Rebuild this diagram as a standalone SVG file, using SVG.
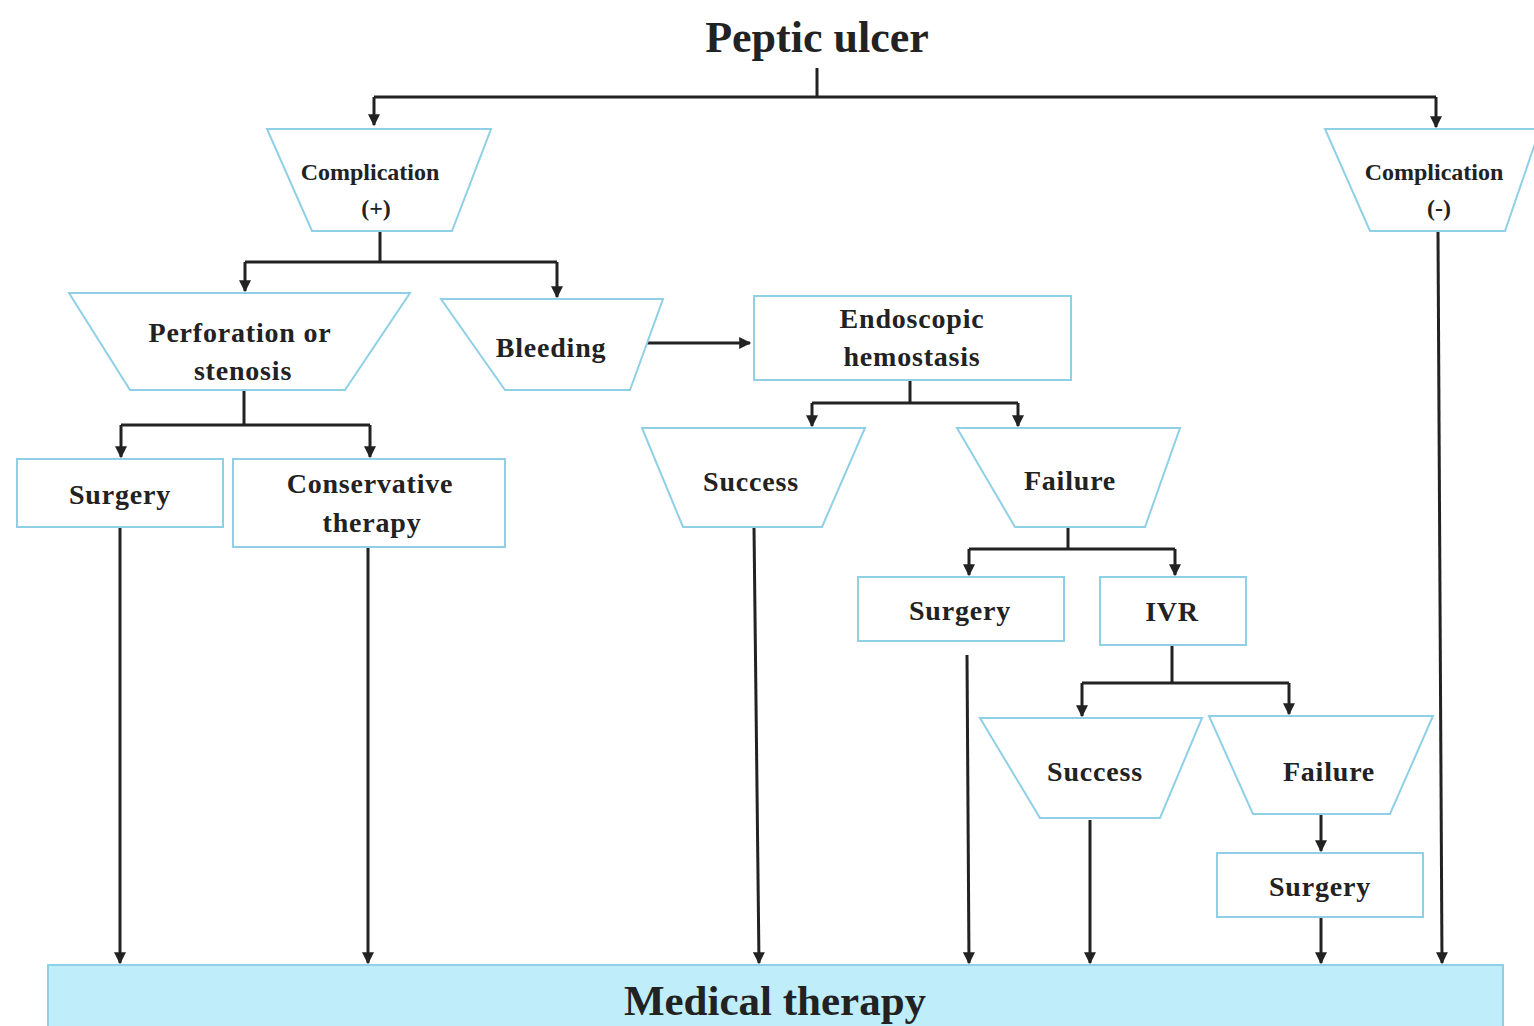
<svg xmlns="http://www.w3.org/2000/svg" width="1534" height="1026" viewBox="0 0 1534 1026">
<style>
.n{fill:#fff;stroke:#8fd0e6;stroke-width:2}
.t{font-family:"Liberation Serif","DejaVu Serif",serif;font-weight:bold;fill:#222;text-anchor:middle}
.s{font-size:28px;letter-spacing:0.8px}
.c{font-size:24px}
.e{stroke:#222;stroke-width:3;fill:none}
</style>
<defs>
<marker id="a" viewBox="0 0 10 10" refX="9" refY="5" markerWidth="4.5" markerHeight="4" orient="auto" markerUnits="strokeWidth">
<path d="M0,0 L10,5 L0,10 z" fill="#222"/>
</marker>
</defs>
<rect width="1534" height="1026" fill="#fff"/>
<g id="title"><text class="t" x="817" y="52" font-size="44">Peptic ulcer</text></g>
<g id="connectors">
<path class="e" d="M817,68 V97"/>
<path class="e" d="M374,97 H1436"/>
<path class="e" d="M374,97 V125" marker-end="url(#a)"/>
<path class="e" d="M1436,97 V127" marker-end="url(#a)"/>
<path class="e" d="M380,232 V262 M245,262 H557"/>
<path class="e" d="M245,262 V291" marker-end="url(#a)"/>
<path class="e" d="M557,262 V297" marker-end="url(#a)"/>
<path class="e" d="M643,343 H750" marker-end="url(#a)"/>
<path class="e" d="M244,390 V425 M121,425 H370"/>
<path class="e" d="M121,425 V457" marker-end="url(#a)"/>
<path class="e" d="M370,425 V457" marker-end="url(#a)"/>
<path class="e" d="M910,380 V403 M812,403 H1018"/>
<path class="e" d="M812,403 V426" marker-end="url(#a)"/>
<path class="e" d="M1018,403 V426" marker-end="url(#a)"/>
<path class="e" d="M1068,527 V549 M969,549 H1175"/>
<path class="e" d="M969,549 V575" marker-end="url(#a)"/>
<path class="e" d="M1175,549 V575" marker-end="url(#a)"/>
<path class="e" d="M1172,645 V683 M1082,683 H1289"/>
<path class="e" d="M1082,683 V716" marker-end="url(#a)"/>
<path class="e" d="M1289,683 V714" marker-end="url(#a)"/>
<path class="e" d="M1321,815 V851" marker-end="url(#a)"/>
<path class="e" d="M1321,917 V963" marker-end="url(#a)"/>
<path class="e" d="M120,527 V963" marker-end="url(#a)"/>
<path class="e" d="M368,547 V963" marker-end="url(#a)"/>
<path class="e" d="M754,527 L759,963" marker-end="url(#a)"/>
<path class="e" d="M967,655 L969,963" marker-end="url(#a)"/>
<path class="e" d="M1090,820 V963" marker-end="url(#a)"/>
<path class="e" d="M1438,232 L1442,963" marker-end="url(#a)"/>
</g>
<g id="comp-plus"><polygon class="n" points="267,129 491,129 452,231 312,231"/><text class="t c" x="370" y="180">Complication</text><text class="t c" x="376" y="216">(+)</text></g>
<g id="comp-minus"><polygon class="n" points="1325,129 1540,129 1505,231 1370,231"/><text class="t c" x="1434" y="180">Complication</text><text class="t c" x="1439" y="216">(-)</text></g>
<g id="perforation"><polygon class="n" points="69,293 410,293 345,390 130,390"/><text class="t s" x="240" y="342">Perforation or</text><text class="t s" x="243" y="380">stenosis</text></g>
<g id="bleeding"><polygon class="n" points="441,299 663,299 630,390 505,390"/><text class="t s" x="551" y="357">Bleeding</text></g>
<g id="endoscopic"><rect class="n" x="754" y="296" width="317" height="84"/><text class="t s" x="912" y="328">Endoscopic</text><text class="t s" x="912" y="366">hemostasis</text></g>
<g id="surgery1"><rect class="n" x="17" y="459" width="206" height="68"/><text class="t s" x="120" y="504">Surgery</text></g>
<g id="conservative"><rect class="n" x="233" y="459" width="272" height="88"/><text class="t s" x="370" y="493">Conservative</text><text class="t s" x="372" y="532">therapy</text></g>
<g id="success1"><polygon class="n" points="642,428 865,428 822,527 683,527"/><text class="t s" x="751" y="491">Success</text></g>
<g id="failure1"><polygon class="n" points="957,428 1180,428 1145,527 1015,527"/><text class="t s" x="1070" y="490">Failure</text></g>
<g id="surgery2"><rect class="n" x="858" y="577" width="206" height="64"/><text class="t s" x="960" y="620">Surgery</text></g>
<g id="ivr"><rect class="n" x="1100" y="577" width="146" height="68"/><text class="t s" x="1172" y="621">IVR</text></g>
<g id="success2"><polygon class="n" points="980,718 1202,718 1160,818 1040,818"/><text class="t s" x="1095" y="781">Success</text></g>
<g id="failure2"><polygon class="n" points="1209,716 1433,716 1390,814 1253,814"/><text class="t s" x="1329" y="781">Failure</text></g>
<g id="surgery3"><rect class="n" x="1217" y="853" width="206" height="64"/><text class="t s" x="1320" y="896">Surgery</text></g>
<g id="medical"><rect x="48" y="965" width="1455" height="70" fill="#bfeefa" stroke="#8fd0e6" stroke-width="2"/><text class="t" x="775" y="1015" font-size="43">Medical therapy</text></g>
</svg>
